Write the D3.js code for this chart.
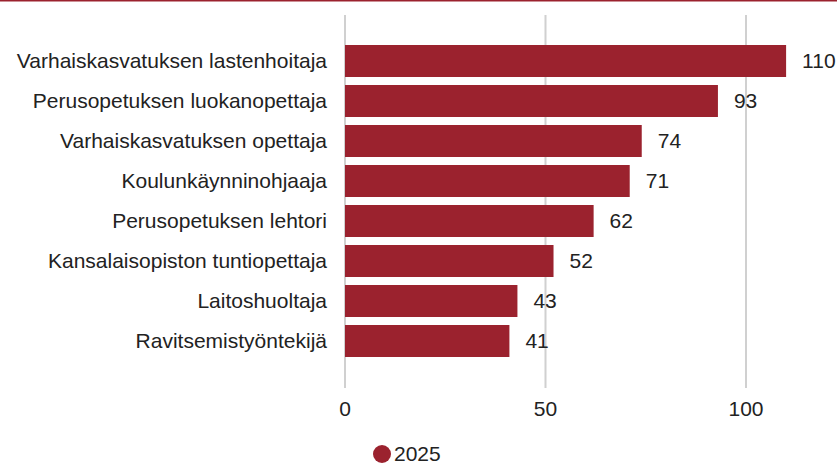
<!DOCTYPE html>
<html>
<head>
<meta charset="utf-8">
<script src="https://cdn.jsdelivr.net/npm/d3@7"></script>
<style>
  body { margin: 0; background: #fff; }
  svg text { font-family: "Liberation Sans", Arial, sans-serif; fill: #222; }
</style>
</head>
<body>
<div id="chart"></div>
<script>
// chart data
let categories = [
    "Varhaiskasvatuksen lastenhoitaja",
    "Perusopetuksen luokanopettaja",
    "Varhaiskasvatuksen opettaja",
    "Koulunkäynninohjaaja",
    "Perusopetuksen lehtori",
    "Kansalaisopiston tuntiopettaja",
    "Laitoshuoltaja",
    "Ravitsemistyöntekijä"
]
let values2025 = [110, 93, 74, 71, 62, 52, 43, 41]
let xTicks = [0, 50, 100]
let seriesName = "2025"

function renderBarChart(frame_id) {
    let width = 837
    let height = 465
    let color = "#9b222e"
    let fontSize = "21px"

    var svg = d3.select("#" + frame_id)
        .append("svg")
        .attr("width", width)
        .attr("height", height)

    // top accent line
    svg.append("rect")
        .attr("x", 0).attr("y", 0)
        .attr("width", width).attr("height", 1.5)
        .attr("fill", color)

    var x = d3.scaleLinear().domain([0, 100]).range([345, 746])
    var y = d3.scaleBand()
        .domain(categories)
        .range([41, 361])
        .paddingInner(0.2)
        .paddingOuter(0.1)

    // grid
    svg.selectAll("grid")
        .data(xTicks)
        .enter()
        .append("line")
        .attr("x1", d => x(d)).attr("x2", d => x(d))
        .attr("y1", 15).attr("y2", 388)
        .attr("stroke", "#d0d0d0")
        .attr("stroke-width", 2)

    // tick labels
    svg.selectAll("ticks")
        .data(xTicks)
        .enter()
        .append("text")
        .text(d => d)
        .attr("x", d => x(d))
        .attr("y", 416)
        .style("text-anchor", "middle")
        .style("font-size", fontSize)

    // bars
    svg.selectAll("bars")
        .data(values2025)
        .enter()
        .append("rect")
        .attr("x", x(0))
        .attr("y", (d, i) => y(categories[i]))
        .attr("width", d => x(d) - x(0))
        .attr("height", y.bandwidth())
        .attr("fill", color)

    // category labels
    svg.selectAll("cats")
        .data(categories)
        .enter()
        .append("text")
        .text(d => d)
        .attr("x", 327)
        .attr("y", d => y(d) + y.bandwidth() / 2)
        .attr("dy", "0.35em")
        .style("text-anchor", "end")
        .style("font-size", fontSize)

    // value labels
    svg.selectAll("vals")
        .data(values2025)
        .enter()
        .append("text")
        .text(d => d)
        .attr("x", d => x(d) + 16)
        .attr("y", (d, i) => y(categories[i]) + y.bandwidth() / 2)
        .attr("dy", "0.35em")
        .style("font-size", fontSize)

    // legend
    svg.append("circle")
        .attr("cx", 382).attr("cy", 454).attr("r", 9)
        .attr("fill", color)
    svg.append("text")
        .text(seriesName)
        .attr("x", 394).attr("y", 454)
        .attr("dy", "0.35em")
        .style("font-size", fontSize)
}

renderBarChart("chart")
</script>
</body>
</html>
